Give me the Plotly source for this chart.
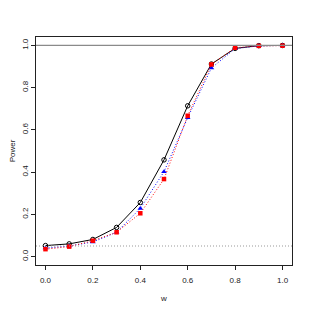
import plotly.graph_objects as go

w = [0.0, 0.1, 0.2, 0.3, 0.4, 0.5, 0.6, 0.7, 0.8, 0.9, 1.0]
power_black = [0.052, 0.060, 0.081, 0.138, 0.256, 0.458, 0.714, 0.912, 0.986, 0.999, 1.0]
power_blue = [0.040, 0.050, 0.069, 0.115, 0.228, 0.402, 0.658, 0.893, 0.985, 0.998, 1.0]
power_red = [0.035, 0.047, 0.075, 0.115, 0.205, 0.367, 0.667, 0.910, 0.989, 0.998, 0.999]
tick_vals = [0, 0.2, 0.4, 0.6, 0.8, 1.0]
tick_text = ["0.0", "0.2", "0.4", "0.6", "0.8", "1.0"]

fig = go.Figure()
fig.add_trace(go.Scatter(x=w, y=power_black, mode="lines+markers",
                         line=dict(color="black", width=1),
                         marker=dict(symbol="circle-open", size=4.5, color="black", line=dict(width=1))))
fig.add_trace(go.Scatter(x=w, y=power_blue, mode="lines+markers",
                         line=dict(color="blue", width=1, dash="1px,2px"),
                         marker=dict(symbol="triangle-up", size=5, color="blue")))
fig.add_trace(go.Scatter(x=w, y=power_red, mode="lines+markers",
                         line=dict(color="red", width=1, dash="1px,2px"),
                         marker=dict(symbol="square", size=4.5, color="red")))

fig.add_shape(type="line", xref="paper", x0=0, x1=1, yref="y", y0=1, y1=1,
              line=dict(color="#8a8a8a", width=1.2))
fig.add_shape(type="line", xref="paper", x0=0, x1=1, yref="y", y0=0.05, y1=0.05,
              line=dict(color="#999999", width=1, dash="1px,2px"))

axis_common = dict(showgrid=False, zeroline=False, showline=True, linecolor="#222222",
                   linewidth=1, mirror=True, ticks="outside", ticklen=4, automargin=False,
                   tickcolor="#222222", tickfont=dict(size=8, color="#222222"))
fig.update_layout(
    width=303, height=303,
    margin=dict(l=28, r=19, t=29, b=46),
    paper_bgcolor="white", plot_bgcolor="white",
    showlegend=False,
    font=dict(family="Liberation Sans, Arial, sans-serif", size=8, color="#222222"),
    xaxis=dict(range=[-0.04, 1.04], tickvals=tick_vals, ticktext=tick_text, ticklabelstandoff=3,
               title=dict(text="w", font=dict(size=8), standoff=11), **axis_common),
    yaxis=dict(range=[-0.04, 1.04], tickvals=tick_vals, ticktext=tick_text, tickangle=-90,
               title=dict(text="Power", font=dict(size=8), standoff=6), **axis_common),
)
fig.write_html("out.html")
